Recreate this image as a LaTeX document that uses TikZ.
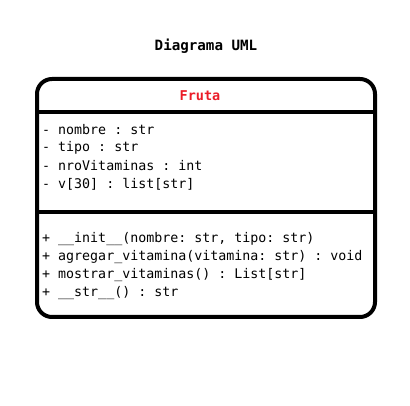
\documentclass[tikz,border=0pt]{standalone}
\usepackage{fontspec}
\setmonofont{DejaVu Sans Mono}
\definecolor{frutared}{RGB}{235,28,40}
\begin{document}
\begin{tikzpicture}[x=1pt,y=-1pt,
  line/.style={inner sep=0pt,anchor=west,font=\ttfamily\fontsize{13.3}{18}\selectfont},
  boxline/.style={line width=4pt}]
\useasboundingbox[fill=white] (0,0) rectangle (410,406);
\node[font=\ttfamily\bfseries\fontsize{14.2}{16}\selectfont,inner sep=0pt] (title) at (206,46) {Diagrama UML};
\draw[boxline,rounded corners=15pt] (37,79) rectangle (375,317);
\draw[boxline] (37,112) -- (375,112);
\draw[boxline] (37,212) -- (375,212);
\node[font=\ttfamily\bfseries\fontsize{13.5}{16}\selectfont,text=frutared,inner sep=0pt] (name) at (200,96) {Fruta};
\node[line] (a1) at (42,130) {- nombre : str};
\node[line] (a2) at (42,148) {- tipo : str};
\node[line] (a3) at (42,166) {- nroVitaminas : int};
\node[line] (a4) at (42,184) {- v[30] : list[str]};
\node[line] (m1) at (42,239) {+ \_\_init\_\_(nombre: str, tipo: str)};
\node[line] (m2) at (42,257) {+ agregar\_vitamina(vitamina: str) : void};
\node[line] (m3) at (42,275) {+ mostrar\_vitaminas() : List[str]};
\node[line] (m4) at (42,293) {+ \_\_str\_\_() : str};
\end{tikzpicture}
\end{document}
